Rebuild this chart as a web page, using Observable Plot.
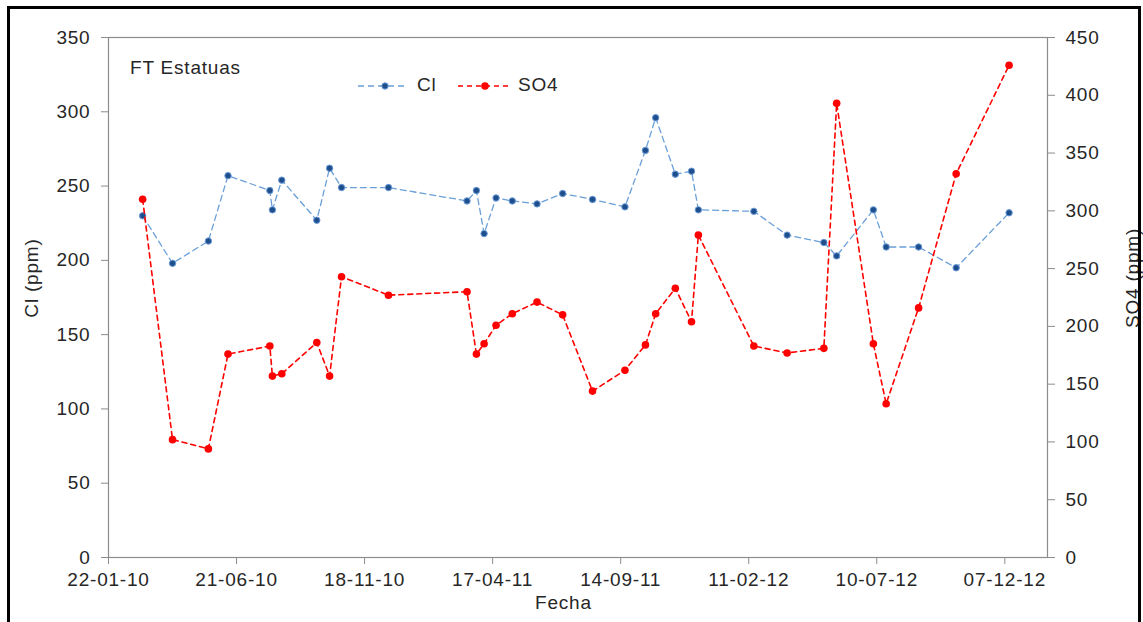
<!DOCTYPE html>
<html>
<head>
<meta charset="utf-8">
<script src="https://cdn.jsdelivr.net/npm/d3@7"></script>
<script src="https://cdn.jsdelivr.net/npm/@observablehq/plot@0.6"></script>
<style>
  html, body { margin: 0; padding: 0; background: #fff; }
  #wrap { position: relative; width: 1143px; height: 622px; overflow: hidden; background: #fff;
          font-family: "Liberation Sans", Arial, sans-serif; color: #262626; }
  #chart { position: absolute; left: 0; top: 0; }
  .border { position: absolute; left: 7px; top: 6px; width: 1128px; height: 720px; border: 3px solid #000; box-sizing: content-box; pointer-events: none; }
  .txt { position: absolute; font-size: 19px; line-height: 19px; letter-spacing: 0.8px; white-space: nowrap; }
  .rot { transform-origin: center center; transform: translate(-50%, -50%) rotate(-90deg); }
  #legend { position: absolute; left: 0; top: 0; }
</style>
</head>
<body>
<div id="wrap">
  <div id="chart"></div>
  <div class="txt" style="left:130px; top:58px;">FT Estatuas</div>
  <svg id="legend" width="1143" height="120"></svg>
  <div class="txt" style="left:535px; top:593px;">Fecha</div>
  <div class="txt rot" style="left:31px; top:278px;">Cl (ppm)</div>
  <div class="txt rot" style="left:1132px; top:278px;">SO4 (ppm)</div>
  <div class="border"></div>
</div>
<script>
// ---- data ----
const dates = [
  "2010-03-03","2010-04-07","2010-05-19","2010-06-11","2010-07-30","2010-08-02","2010-08-13",
  "2010-09-23","2010-10-08","2010-10-22","2010-12-16","2011-03-18","2011-03-29","2011-04-07",
  "2011-04-21","2011-05-10","2011-06-08","2011-07-08","2011-08-12","2011-09-19","2011-10-13",
  "2011-10-25","2011-11-17","2011-12-06","2011-12-14","2012-02-17","2012-03-27","2012-05-09",
  "2012-05-24","2012-07-06","2012-07-21","2012-08-28","2012-10-11","2012-12-12"
];
const cl = [
  230, 198, 213, 257, 247, 234, 254,
  227, 262, 249, 249, 240, 247, 218,
  242, 240, 238, 245, 241, 236, 274,
  296, 258, 260, 234, 233, 217, 212,
  203, 234, 209, 209, 195, 232
];
const so4 = [
  310, 102, 94, 176, 183, 157, 159,
  186, 157, 243, 227, 230, 176, 185,
  201, 211, 221, 210, 144, 162, 184,
  211, 233, 204, 279, 183, 177, 181,
  393, 185, 133, 216, 332, 426
];
const xTickDates = ["2010-01-22","2010-06-21","2010-11-18","2011-04-17","2011-09-14","2012-02-11","2012-07-10","2012-12-07"];
const xDomain = ["2010-01-22","2013-01-26"];
const clTicks = [0, 50, 100, 150, 200, 250, 300, 350];
const so4Ticks = [0, 50, 100, 150, 200, 250, 300, 350, 400, 450];
const seriesNames = ["Cl", "SO4"];
const clMax = 350, so4Max = 450;

// ---- build ----
const k = clMax / so4Max; // map SO4 (right axis) onto left scale
const rows = dates.map((d, i) => ({date: new Date(d), cl: cl[i], so4: so4[i]}));
const axisGray = "#8c8c8c";
const fmt = d3.utcFormat("%d-%m-%y");

const chart = Plot.plot({
  width: 1143,
  height: 622,
  marginLeft: 108,
  marginRight: 96,
  marginTop: 37,
  marginBottom: 65,
  style: {fontFamily: "'Liberation Sans', Arial, sans-serif", fontSize: "19px", color: "#262626", background: "transparent", letterSpacing: "0.8px"},
  x: {type: "utc", domain: xDomain.map(d => new Date(d))},
  y: {domain: [0, clMax]},
  marks: [
    Plot.frame({stroke: axisGray, strokeWidth: 1.2}),
    Plot.axisX(xTickDates.map(d => new Date(d)), {tickFormat: fmt, tickSize: 7, tickPadding: 8, stroke: axisGray, fill: "#262626", label: null}),
    Plot.axisY(clTicks, {anchor: "left", tickSize: 7, tickPadding: 11, stroke: axisGray, fill: "#262626", label: null}),
    Plot.axisY(so4Ticks.map(v => v * k), {anchor: "right", tickFormat: v => String(Math.round(v / k)), tickSize: 7, tickPadding: 11, stroke: axisGray, fill: "#262626", label: null}),
    Plot.line(rows, {x: "date", y: "cl", stroke: "#6a9fd8", strokeWidth: 1.3, strokeDasharray: "6,4"}),
    Plot.dot(rows, {x: "date", y: "cl", r: 3.2, fill: "#1f4e8c", stroke: "#6a9bd8", strokeWidth: 1}),
    Plot.line(rows, {x: "date", y: d => d.so4 * k, stroke: "#ff0000", strokeWidth: 1.6, strokeDasharray: "5,4"}),
    Plot.dot(rows, {x: "date", y: d => d.so4 * k, r: 3.8, fill: "#ff0000", stroke: "none"})
  ]
});
document.getElementById("chart").appendChild(chart);

// ---- legend ----
const leg = d3.select("#legend");
const items = [
  {name: seriesNames[0], x0: 358, x1: 408, mx: 385, tx: 417, stroke: "#6a9fd8", dash: "6,4", fill: "#1f4e8c", r: 3.2, ms: "#6a9bd8"},
  {name: seriesNames[1], x0: 458, x1: 508, mx: 485, tx: 518, stroke: "#ff0000", dash: "5,4", fill: "#ff0000", r: 3.8, ms: "none"}
];
items.forEach(it => {
  leg.append("line").attr("x1", it.x0).attr("x2", it.x1).attr("y1", 86).attr("y2", 86)
     .attr("stroke", it.stroke).attr("stroke-width", 1.5).attr("stroke-dasharray", it.dash);
  leg.append("circle").attr("cx", it.mx).attr("cy", 86).attr("r", it.r).attr("fill", it.fill).attr("stroke", it.ms);
  leg.append("text").attr("x", it.tx).attr("y", 91).attr("fill", "#262626")
     .style("font-family", "'Liberation Sans', Arial, sans-serif").style("font-size", "19px").style("letter-spacing", "0.8px")
     .text(it.name);
});
</script>
</body>
</html>
